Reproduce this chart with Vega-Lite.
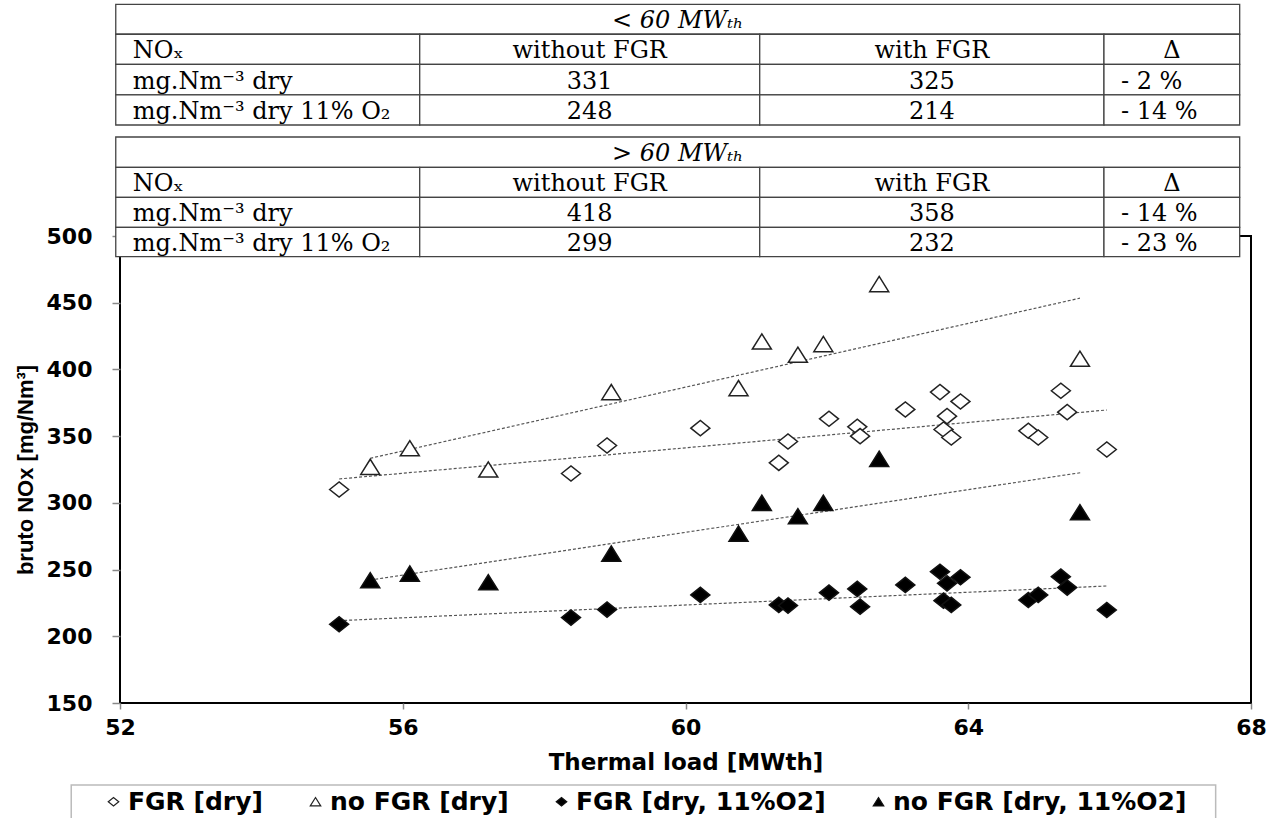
{
  "$schema": "https://vega.github.io/schema/vega-lite/v6.json",
  "autosize": {"type": "none"},
  "width": 1131,
  "height": 467,
  "padding": {"left": 120, "top": 236, "right": 26, "bottom": 115},
  "background": "white",
  "config": {
    "view": {"stroke": "black", "strokeWidth": 2},
    "legend": {
      "orient": "none",
      "legendX": -19,
      "legendY": 553,
      "direction": "horizontal",
      "padding": 0,
      "labelFont": "DejaVu Sans",
      "labelFontWeight": "bold",
      "labelFontSize": 25,
      "labelColor": "black",
      "labelOffset": 2,
      "labelLimit": 500,
      "columnPadding": 40,
      "symbolSize": 110,
      "symbolStrokeWidth": 1.2,
      "symbolStrokeColor": "black"
    }
  },
  "datasets": {
    "points": [
      {"load": 55.10, "nox": 310, "series": "FGR [dry]"},
      {"load": 58.38, "nox": 322, "series": "FGR [dry]"},
      {"load": 58.89, "nox": 343, "series": "FGR [dry]"},
      {"load": 60.21, "nox": 356, "series": "FGR [dry]"},
      {"load": 61.32, "nox": 330, "series": "FGR [dry]"},
      {"load": 61.45, "nox": 346, "series": "FGR [dry]"},
      {"load": 62.03, "nox": 363, "series": "FGR [dry]"},
      {"load": 62.43, "nox": 357, "series": "FGR [dry]"},
      {"load": 62.47, "nox": 350, "series": "FGR [dry]"},
      {"load": 63.11, "nox": 370, "series": "FGR [dry]"},
      {"load": 63.60, "nox": 383, "series": "FGR [dry]"},
      {"load": 63.65, "nox": 355, "series": "FGR [dry]"},
      {"load": 63.70, "nox": 365, "series": "FGR [dry]"},
      {"load": 63.76, "nox": 349, "series": "FGR [dry]"},
      {"load": 63.89, "nox": 376, "series": "FGR [dry]"},
      {"load": 64.85, "nox": 354, "series": "FGR [dry]"},
      {"load": 64.99, "nox": 349, "series": "FGR [dry]"},
      {"load": 65.31, "nox": 384, "series": "FGR [dry]"},
      {"load": 65.40, "nox": 368, "series": "FGR [dry]"},
      {"load": 65.96, "nox": 340, "series": "FGR [dry]"},
      {"load": 55.54, "nox": 327, "series": "no FGR [dry]"},
      {"load": 56.10, "nox": 341, "series": "no FGR [dry]"},
      {"load": 57.21, "nox": 325, "series": "no FGR [dry]"},
      {"load": 58.95, "nox": 383, "series": "no FGR [dry]"},
      {"load": 60.75, "nox": 386, "series": "no FGR [dry]"},
      {"load": 61.08, "nox": 421, "series": "no FGR [dry]"},
      {"load": 61.59, "nox": 411, "series": "no FGR [dry]"},
      {"load": 61.95, "nox": 419, "series": "no FGR [dry]"},
      {"load": 62.74, "nox": 464, "series": "no FGR [dry]"},
      {"load": 65.58, "nox": 408, "series": "no FGR [dry]"},
      {"load": 55.10, "nox": 209, "series": "FGR [dry, 11%O2]"},
      {"load": 58.38, "nox": 214, "series": "FGR [dry, 11%O2]"},
      {"load": 58.89, "nox": 220, "series": "FGR [dry, 11%O2]"},
      {"load": 60.21, "nox": 231, "series": "FGR [dry, 11%O2]"},
      {"load": 61.32, "nox": 223.5, "series": "FGR [dry, 11%O2]"},
      {"load": 61.45, "nox": 223, "series": "FGR [dry, 11%O2]"},
      {"load": 62.03, "nox": 232.7, "series": "FGR [dry, 11%O2]"},
      {"load": 62.43, "nox": 235.5, "series": "FGR [dry, 11%O2]"},
      {"load": 62.47, "nox": 222.2, "series": "FGR [dry, 11%O2]"},
      {"load": 63.11, "nox": 238.5, "series": "FGR [dry, 11%O2]"},
      {"load": 63.60, "nox": 248.4, "series": "FGR [dry, 11%O2]"},
      {"load": 63.65, "nox": 226.7, "series": "FGR [dry, 11%O2]"},
      {"load": 63.70, "nox": 239.7, "series": "FGR [dry, 11%O2]"},
      {"load": 63.76, "nox": 223.5, "series": "FGR [dry, 11%O2]"},
      {"load": 63.89, "nox": 244.2, "series": "FGR [dry, 11%O2]"},
      {"load": 64.85, "nox": 227.2, "series": "FGR [dry, 11%O2]"},
      {"load": 64.99, "nox": 231, "series": "FGR [dry, 11%O2]"},
      {"load": 65.31, "nox": 244.7, "series": "FGR [dry, 11%O2]"},
      {"load": 65.40, "nox": 236.5, "series": "FGR [dry, 11%O2]"},
      {"load": 65.96, "nox": 219.7, "series": "FGR [dry, 11%O2]"},
      {"load": 55.54, "nox": 242, "series": "no FGR [dry, 11%O2]"},
      {"load": 56.10, "nox": 247, "series": "no FGR [dry, 11%O2]"},
      {"load": 57.21, "nox": 240.5, "series": "no FGR [dry, 11%O2]"},
      {"load": 58.95, "nox": 262, "series": "no FGR [dry, 11%O2]"},
      {"load": 60.75, "nox": 277, "series": "no FGR [dry, 11%O2]"},
      {"load": 61.08, "nox": 300, "series": "no FGR [dry, 11%O2]"},
      {"load": 61.59, "nox": 290, "series": "no FGR [dry, 11%O2]"},
      {"load": 61.95, "nox": 300, "series": "no FGR [dry, 11%O2]"},
      {"load": 62.74, "nox": 333, "series": "no FGR [dry, 11%O2]"},
      {"load": 65.58, "nox": 293, "series": "no FGR [dry, 11%O2]"}
    ],
    "trends": [
      {"load": 55.10, "nox": 317.9, "series": "FGR [dry]"},
      {"load": 65.96, "nox": 369.6, "series": "FGR [dry]"},
      {"load": 55.54, "nox": 333.4, "series": "no FGR [dry]"},
      {"load": 65.58, "nox": 453.4, "series": "no FGR [dry]"},
      {"load": 55.10, "nox": 211.7, "series": "FGR [dry, 11%O2]"},
      {"load": 65.96, "nox": 237.7, "series": "FGR [dry, 11%O2]"},
      {"load": 55.54, "nox": 242.2, "series": "no FGR [dry, 11%O2]"},
      {"load": 65.59, "nox": 322.6, "series": "no FGR [dry, 11%O2]"}
    ],
    "cells": [
      {"x0": 51.94, "x1": 67.84, "y0": 651.2, "y1": 673.6},
      {"x0": 51.94, "x1": 56.24, "y0": 628.7, "y1": 651.2},
      {"x0": 56.24, "x1": 61.05, "y0": 628.7, "y1": 651.2},
      {"x0": 61.05, "x1": 65.92, "y0": 628.7, "y1": 651.2},
      {"x0": 65.92, "x1": 67.84, "y0": 628.7, "y1": 651.2},
      {"x0": 51.94, "x1": 56.24, "y0": 605.7, "y1": 628.7},
      {"x0": 56.24, "x1": 61.05, "y0": 605.7, "y1": 628.7},
      {"x0": 61.05, "x1": 65.92, "y0": 605.7, "y1": 628.7},
      {"x0": 65.92, "x1": 67.84, "y0": 605.7, "y1": 628.7},
      {"x0": 51.94, "x1": 56.24, "y0": 583.2, "y1": 605.7},
      {"x0": 56.24, "x1": 61.05, "y0": 583.2, "y1": 605.7},
      {"x0": 61.05, "x1": 65.92, "y0": 583.2, "y1": 605.7},
      {"x0": 65.92, "x1": 67.84, "y0": 583.2, "y1": 605.7},
      {"x0": 51.94, "x1": 67.84, "y0": 551.5, "y1": 574.2},
      {"x0": 51.94, "x1": 56.24, "y0": 529.0, "y1": 551.5},
      {"x0": 56.24, "x1": 61.05, "y0": 529.0, "y1": 551.5},
      {"x0": 61.05, "x1": 65.92, "y0": 529.0, "y1": 551.5},
      {"x0": 65.92, "x1": 67.84, "y0": 529.0, "y1": 551.5},
      {"x0": 51.94, "x1": 56.24, "y0": 506.5, "y1": 529.0},
      {"x0": 56.24, "x1": 61.05, "y0": 506.5, "y1": 529.0},
      {"x0": 61.05, "x1": 65.92, "y0": 506.5, "y1": 529.0},
      {"x0": 65.92, "x1": 67.84, "y0": 506.5, "y1": 529.0},
      {"x0": 51.94, "x1": 56.24, "y0": 484.5, "y1": 506.5},
      {"x0": 56.24, "x1": 61.05, "y0": 484.5, "y1": 506.5},
      {"x0": 61.05, "x1": 65.92, "y0": 484.5, "y1": 506.5},
      {"x0": 65.92, "x1": 67.84, "y0": 484.5, "y1": 506.5}
    ],
    "cellText": [
      {"text": "< 60 MWₜₕ", "kind": "title", "tx": 59.89, "ty": 662.4},
      {"text": "NOₓ", "kind": "label", "tx": 52.18, "ty": 640.0},
      {"text": "without FGR", "kind": "center", "tx": 58.645, "ty": 640.0},
      {"text": "with FGR", "kind": "center", "tx": 63.485, "ty": 640.0},
      {"text": "Δ", "kind": "center", "tx": 66.88, "ty": 640.0},
      {"text": "mg.Nm⁻³ dry", "kind": "label", "tx": 52.18, "ty": 617.2},
      {"text": "331", "kind": "center", "tx": 58.645, "ty": 617.2},
      {"text": "325", "kind": "center", "tx": 63.485, "ty": 617.2},
      {"text": "- 2 %", "kind": "delta", "tx": 66.16, "ty": 617.2},
      {"text": "mg.Nm⁻³ dry 11% O₂", "kind": "label", "tx": 52.18, "ty": 594.5},
      {"text": "248", "kind": "center", "tx": 58.645, "ty": 594.5},
      {"text": "214", "kind": "center", "tx": 63.485, "ty": 594.5},
      {"text": "- 14 %", "kind": "delta", "tx": 66.16, "ty": 594.5},
      {"text": "> 60 MWₜₕ", "kind": "title", "tx": 59.89, "ty": 562.9},
      {"text": "NOₓ", "kind": "label", "tx": 52.18, "ty": 540.3},
      {"text": "without FGR", "kind": "center", "tx": 58.645, "ty": 540.3},
      {"text": "with FGR", "kind": "center", "tx": 63.485, "ty": 540.3},
      {"text": "Δ", "kind": "center", "tx": 66.88, "ty": 540.3},
      {"text": "mg.Nm⁻³ dry", "kind": "label", "tx": 52.18, "ty": 517.8},
      {"text": "418", "kind": "center", "tx": 58.645, "ty": 517.8},
      {"text": "358", "kind": "center", "tx": 63.485, "ty": 517.8},
      {"text": "- 14 %", "kind": "delta", "tx": 66.16, "ty": 517.8},
      {"text": "mg.Nm⁻³ dry 11% O₂", "kind": "label", "tx": 52.18, "ty": 495.5},
      {"text": "299", "kind": "center", "tx": 58.645, "ty": 495.5},
      {"text": "232", "kind": "center", "tx": 63.485, "ty": 495.5},
      {"text": "- 23 %", "kind": "delta", "tx": 66.16, "ty": 495.5}
    ],
    "legendBox": [
      {"x0": 51.31, "x1": 67.5, "y0": 88.5, "y1": 58}
    ]
  },
  "layer": [
    {
      "data": {"name": "trends"},
      "mark": {"type": "line", "stroke": "#555", "strokeWidth": 1.2, "strokeDash": [3, 2]},
      "encoding": {
        "x": {
          "field": "load", "type": "quantitative",
          "title": "Thermal load [MWth]",
          "scale": {"domain": [52, 68], "nice": false, "zero": false},
          "axis": {
            "values": [52, 56, 60, 64, 68],
            "format": "d",
            "title": "Thermal load [MWth]",
            "titleFont": "DejaVu Sans", "titleFontWeight": "bold", "titleFontSize": 23, "titleColor": "black", "titlePadding": 13,
            "labelFont": "DejaVu Sans", "labelFontWeight": "bold", "labelFontSize": 22, "labelColor": "black", "labelPadding": 8,
            "labelFlush": false, "labelOverlap": false,
            "tickSize": 6, "tickColor": "#888", "tickWidth": 1.5,
            "domain": false, "grid": false
          }
        },
        "y": {
          "field": "nox", "type": "quantitative",
          "title": "bruto NOx [mg/Nm³]",
          "scale": {"domain": [150, 500], "nice": false, "zero": false},
          "axis": {
            "values": [150, 200, 250, 300, 350, 400, 450, 500],
            "format": "d",
            "title": "bruto NOx [mg/Nm³]",
            "titleFont": "Liberation Sans", "titleFontWeight": "bold", "titleFontSize": 22, "titleColor": "black", "titlePadding": 9,
            "labelFont": "DejaVu Sans", "labelFontWeight": "bold", "labelFontSize": 22, "labelColor": "black", "labelPadding": 20,
            "labelOverlap": false,
            "tickSize": 8, "tickColor": "#888", "tickWidth": 1.5,
            "domain": false, "grid": false
          }
        },
        "detail": {"field": "series", "type": "nominal"}
      }
    },
    {
      "data": {"name": "points"},
      "mark": {"type": "point", "filled": true, "strokeWidth": 1.5, "size": 361, "opacity": 1},
      "encoding": {
        "x": {"field": "load", "type": "quantitative", "title": "Thermal load [MWth]"},
        "y": {"field": "nox", "type": "quantitative", "title": "bruto NOx [mg/Nm³]"},
        "shape": {
          "field": "series", "type": "nominal",
          "scale": {
            "domain": ["FGR [dry]", "no FGR [dry]", "FGR [dry, 11%O2]", "no FGR [dry, 11%O2]"],
            "range": ["M-1,0L0,-0.8L1,0L0,0.8Z", "M0,-0.8L1,0.8L-1,0.8Z", "M-1,0L0,-0.8L1,0L0,0.8Z", "M0,-0.8L1,0.8L-1,0.8Z"]
          },
          "legend": {"title": null}
        },
        "fill": {
          "field": "series", "type": "nominal",
          "scale": {
            "domain": ["FGR [dry]", "no FGR [dry]", "FGR [dry, 11%O2]", "no FGR [dry, 11%O2]"],
            "range": ["white", "white", "black", "black"]
          },
          "legend": {"title": null}
        },
        "stroke": {
          "field": "series", "type": "nominal",
          "scale": {
            "domain": ["FGR [dry]", "no FGR [dry]", "FGR [dry, 11%O2]", "no FGR [dry, 11%O2]"],
            "range": ["#222", "#222", "#111", "#111"]
          },
          "legend": {"title": null}
        }
      }
    },
    {
      "data": {"name": "cells"},
      "mark": {"type": "rect", "fill": "white", "stroke": "#444", "strokeWidth": 1.3},
      "encoding": {
        "x": {"field": "x0", "type": "quantitative", "title": "Thermal load [MWth]"},
        "x2": {"field": "x1"},
        "y": {"field": "y0", "type": "quantitative", "title": "bruto NOx [mg/Nm³]"},
        "y2": {"field": "y1"}
      }
    },
    {
      "data": {"name": "cellText"},
      "transform": [{"filter": "datum.kind === 'title'"}],
      "mark": {"type": "text", "font": "DejaVu Serif", "fontSize": 24, "fontStyle": "italic", "align": "center", "baseline": "middle", "dy": 2, "color": "black"},
      "encoding": {
        "x": {"field": "tx", "type": "quantitative", "title": "Thermal load [MWth]"},
        "y": {"field": "ty", "type": "quantitative", "title": "bruto NOx [mg/Nm³]"},
        "text": {"field": "text"}
      }
    },
    {
      "data": {"name": "cellText"},
      "transform": [{"filter": "datum.kind === 'center'"}],
      "mark": {"type": "text", "font": "DejaVu Serif", "fontSize": 24, "align": "center", "baseline": "middle", "dy": 2, "color": "black"},
      "encoding": {
        "x": {"field": "tx", "type": "quantitative", "title": "Thermal load [MWth]"},
        "y": {"field": "ty", "type": "quantitative", "title": "bruto NOx [mg/Nm³]"},
        "text": {"field": "text"}
      }
    },
    {
      "data": {"name": "cellText"},
      "transform": [{"filter": "datum.kind === 'label' || datum.kind === 'delta'"}],
      "mark": {"type": "text", "font": "DejaVu Serif", "fontSize": 24, "align": "left", "baseline": "middle", "dy": 2, "color": "black"},
      "encoding": {
        "x": {"field": "tx", "type": "quantitative", "title": "Thermal load [MWth]"},
        "y": {"field": "ty", "type": "quantitative", "title": "bruto NOx [mg/Nm³]"},
        "text": {"field": "text"}
      }
    },
    {
      "data": {"name": "legendBox"},
      "mark": {"type": "rect", "fill": null, "fillOpacity": 0, "stroke": "#bbb", "strokeWidth": 1.5},
      "encoding": {
        "x": {"field": "x0", "type": "quantitative", "title": "Thermal load [MWth]"},
        "x2": {"field": "x1"},
        "y": {"field": "y0", "type": "quantitative", "title": "bruto NOx [mg/Nm³]"},
        "y2": {"field": "y1"}
      }
    }
  ]
}
